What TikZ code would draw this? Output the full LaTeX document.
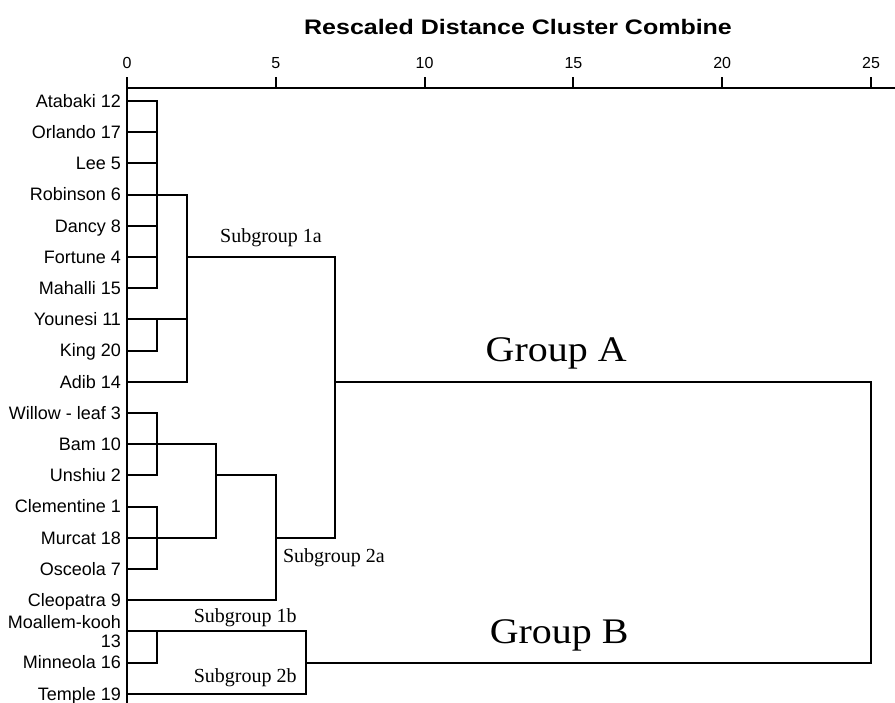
\documentclass[tikz,border=0pt]{standalone}
\usepackage{fontspec}
\setmainfont{Liberation Serif}
\setsansfont{Liberation Sans}

\begin{document}
\begin{tikzpicture}[x=29.76pt, y=-31.2pt, line width=2pt, line cap=rect,
    leaf/.style={anchor=base east, inner sep=0pt, yshift=-6.3pt,
      font=\sffamily\fontsize{18}{19}\selectfont},
    tick/.style={inner sep=0pt, font=\sffamily\fontsize{16}{18}\selectfont},
    sublabel/.style={inner sep=0pt, font=\fontsize{20}{22}\selectfont},
    grouplabel/.style={inner sep=0pt, font=\fontsize{36}{40}\selectfont}]
  \useasboundingbox (-4.2675,-3.237) rectangle (25.806,19.263);

  % Distance axis
  \draw (0,-0.417) -- (25.9,-0.417);
  \foreach \d in {0,5,...,25} {
      \draw (\d,-0.417) -- (\d,-0.737);
      \node[tick] (tick\d) at (\d,-1.218) {\d};
    }
  \node[inner sep=0pt, font=\sffamily\bfseries\fontsize{21}{24}\selectfont] (title)
    at (13.14,-2.372) {\scalebox{1.19}[1]{Rescaled Distance Cluster Combine}};

  % Left border
  \draw (0,-0.417) -- (0,19.4);

  % Cultivar names
  \foreach \i/\name in {0/Atabaki 12, 1/Orlando 17, 2/Lee 5, 3/Robinson 6,
      4/Dancy 8, 5/Fortune 4, 6/Mahalli 15, 7/Younesi 11, 8/King 20,
      9/Adib 14, 10/Willow - leaf 3, 11/Bam 10, 12/Unshiu 2,
      13/Clementine 1, 14/Murcat 18, 15/Osceola 7, 16/Cleopatra 9,
      18/Minneola 16, 19/Temple 19} {
      \node[leaf] (leaf\i) at (-0.168,\i) {\name};
    }
  \node[anchor=east, inner sep=0pt, align=right,
    font=\sffamily\fontsize{18}{19}\selectfont] (leaf17) at (-0.168,17) {Moallem-kooh\\13};

  % Leaves joined at distance 1
  \foreach \r in {0,1,2,4,5,6,8,10,12,13,15,18} {
      \draw (0,\r) -- (1,\r);
    }
  \draw (1,0) -- (1,6);
  \draw (1,7) -- (1,8);
  \draw (1,10) -- (1,12);
  \draw (1,13) -- (1,15);
  \draw (1,17) -- (1,18);

  % Subgroup 1a
  \draw (0,3) -- (2,3);
  \draw (0,7) -- (2,7);
  \draw (0,9) -- (2,9);
  \draw (2,3) -- (2,9);
  \draw (2,5) -- (7,5);

  % Subgroup 2a
  \draw (0,11) -- (3,11);
  \draw (0,14) -- (3,14);
  \draw (3,11) -- (3,14);
  \draw (3,12) -- (5,12);
  \draw (0,16) -- (5,16);
  \draw (5,12) -- (5,16);
  \draw (5,14) -- (7,14);

  % Group A
  \draw (7,5) -- (7,14);
  \draw (7,9) -- (25,9);

  % Group B
  \draw (0,17) -- (6,17);
  \draw (0,19) -- (6,19);
  \draw (6,17) -- (6,19);
  \draw (6,18) -- (25,18) -- (25,9);

  % Group labels
  \node[sublabel] (sub1a) at (4.84,4.39) {Subgroup 1a};
  \node[sublabel, anchor=west] (sub2a) at (5.21,14.65) {Subgroup 2a};
  \node[sublabel] (sub1b) at (3.97,16.57) {Subgroup 1b};
  \node[sublabel] (sub2b) at (3.97,18.49) {Subgroup 2b};
  \node[grouplabel] (groupA) at (14.42,8.08) {\scalebox{1.11}[1]{Group A}};
  \node[grouplabel] (groupB) at (14.52,17.12) {\scalebox{1.11}[1]{Group B}};
\end{tikzpicture}
\end{document}
